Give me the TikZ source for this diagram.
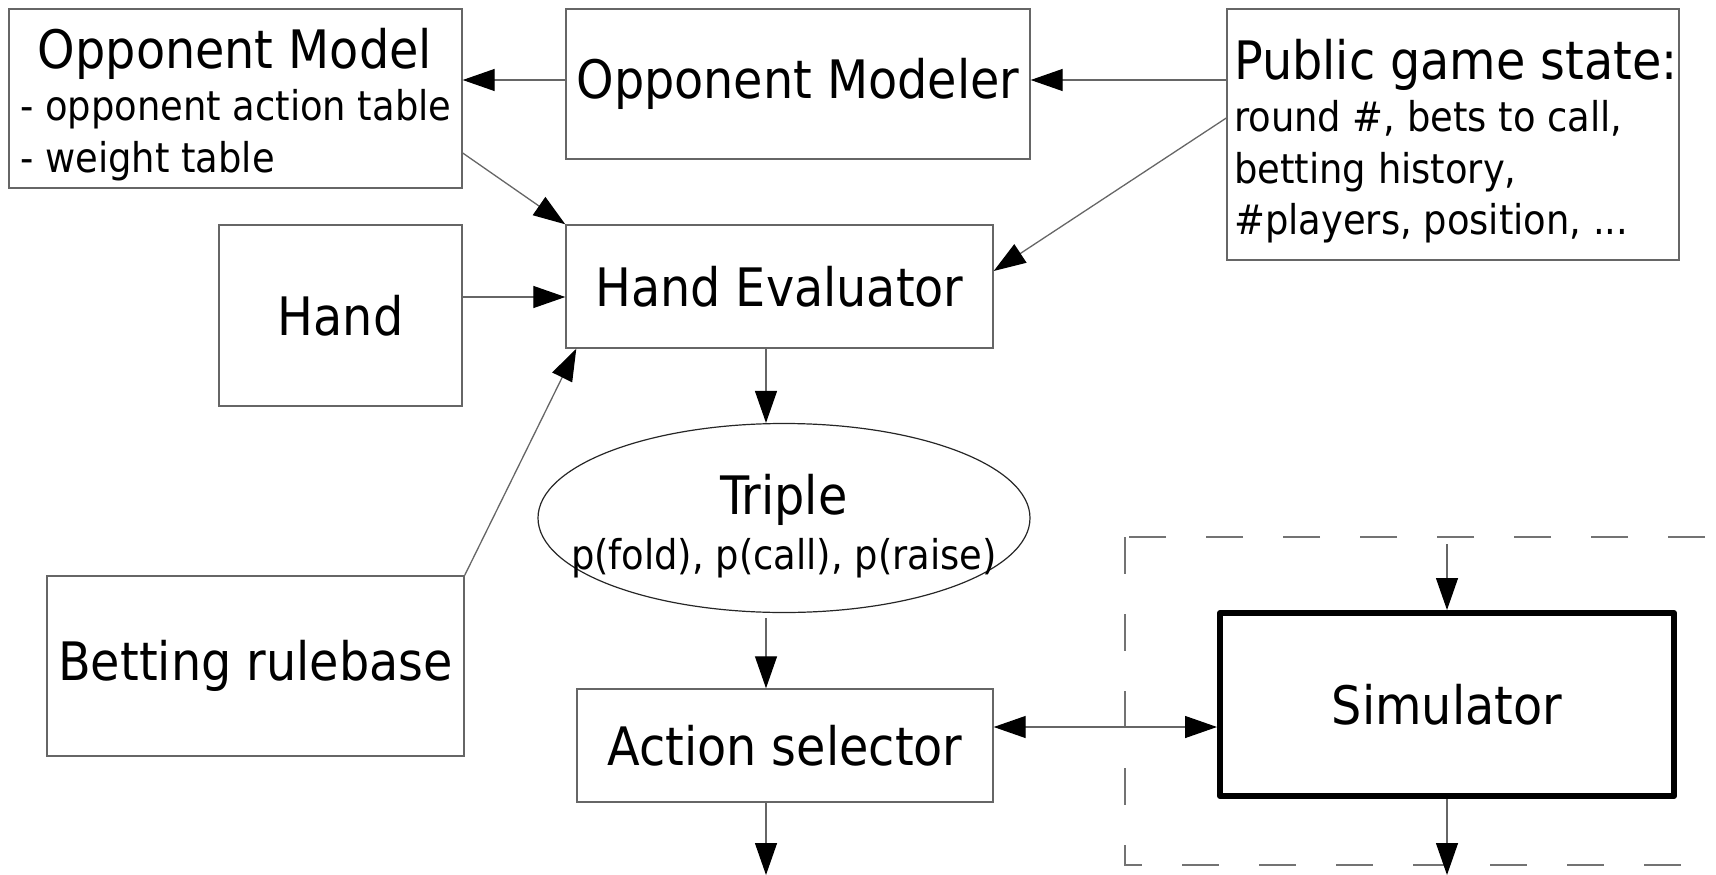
\documentclass[tikz,border=0pt]{standalone}
\usepackage{fontspec}
\setmainfont{DejaVu Sans Condensed}
\usetikzlibrary{arrows.meta,shapes.geometric}
\begin{document}
\begin{tikzpicture}[x=1pt,y=-1pt,
  box/.style={draw=black!60, line width=1.4pt, inner sep=0pt},
  tip/.tip={Triangle[length=32pt,width=22pt,fill=black,color=black]},
  conn/.style={draw=black!60, line width=1.3pt, -tip},
  big/.style={font=\fontsize{53}{60}\selectfont, inner sep=0pt},
  small/.style={font=\fontsize{41}{50}\selectfont, inner sep=0pt}]
\useasboundingbox (0,0) rectangle (1716,875);
% dashed frame
\begin{scope}
\clip (0,0) rectangle (1716,875);
\draw[draw=black!55, line width=1.3pt, dash pattern=on 37pt off 40pt] (1125,537) rectangle (1780,865);
\end{scope}
% boxes
\node[box, minimum width=453pt, minimum height=179pt] (om) at (235.5,98.5) {};
\node[big, anchor=base] (omt) at (235,69) {Opponent Model};
\node[small, anchor=base west] (om1) at (20,120) {- opponent action table};
\node[small, anchor=base west] (om2) at (20,172) {- weight table};
\node[box, big, minimum width=464pt, minimum height=150pt] (omr) at (798,84) {Opponent Modeler};
\node[box, minimum width=452pt, minimum height=251pt] (pgs) at (1453,134.5) {};
\node[big, anchor=base west] (pgst) at (1234,80) {Public game state:};
\node[small, anchor=base west] (pg1) at (1234,131) {round \#, bets to call,};
\node[small, anchor=base west] (pg2) at (1234,183) {betting history,};
\node[small, anchor=base west] (pg3) at (1234,234) {\#players, position, ...};
\node[box, big, minimum width=243pt, minimum height=181pt] (hand) at (340.5,315.5) {Hand};
\node[box, big, minimum width=427pt, minimum height=123pt] (he) at (779.5,286.5) {Hand Evaluator};
\node[ellipse, draw=black!85, line width=1.2pt, minimum width=492pt, minimum height=189pt, inner sep=0pt] (tri) at (784,518) {};
\node[big, anchor=base] (trit) at (784,514) {Triple};
\node[small, anchor=base] (tri1) at (784,569) {p(fold), p(call), p(raise)};
\node[box, big, minimum width=417pt, minimum height=180pt] (br) at (255.5,666) {Betting rulebase};
\node[box, big, minimum width=416pt, minimum height=113pt] (as) at (785,745.5) {Action selector};
\node[draw=black, line width=6pt, line join=round, big, minimum width=454pt, minimum height=183pt, inner sep=0pt] (sim) at (1447,704.5) {Simulator};
% free ends
\coordinate (out1) at (766,875);
\coordinate (simin) at (1447,544);
\coordinate (simout) at (1447,875);
% connectors
\draw[conn] ([yshift=4pt]omr.west) -- ([yshift=4pt]omr.west -| om.east);
\draw[conn] ([yshift=4pt]omr.east -| pgs.west) -- ([yshift=4pt]omr.east);
\draw[conn] ([yshift=16.5pt]pgs.west) -- ([yshift=15.5pt]he.east);
\draw[conn] ([yshift=-54.5pt]om.east) -- (he.north west);
\draw[conn] ([yshift=18.5pt]hand.east) -- ([yshift=18.5pt]hand.east -| he.west);
\draw[conn] (br.north east) -- ([xshift=11pt]he.south west);
\draw[conn] ([xshift=-13.5pt]he.south) -- ([xshift=-13.5pt]he.south |- tri.north);
\draw[conn, shorten <=5pt] ([xshift=-19pt]as.north |- tri.south) -- ([xshift=-19pt]as.north);
\draw[conn] ([xshift=-19pt]as.south) -- ([xshift=-19pt]as.south |- out1);
\draw[conn, tip-tip] ([yshift=18.5pt]as.east) -- ([yshift=18.5pt]as.east -| sim.west);
\draw[conn] (simin) -- (sim.north);
\draw[conn] (sim.south) -- (simout);
\end{tikzpicture}
\end{document}
